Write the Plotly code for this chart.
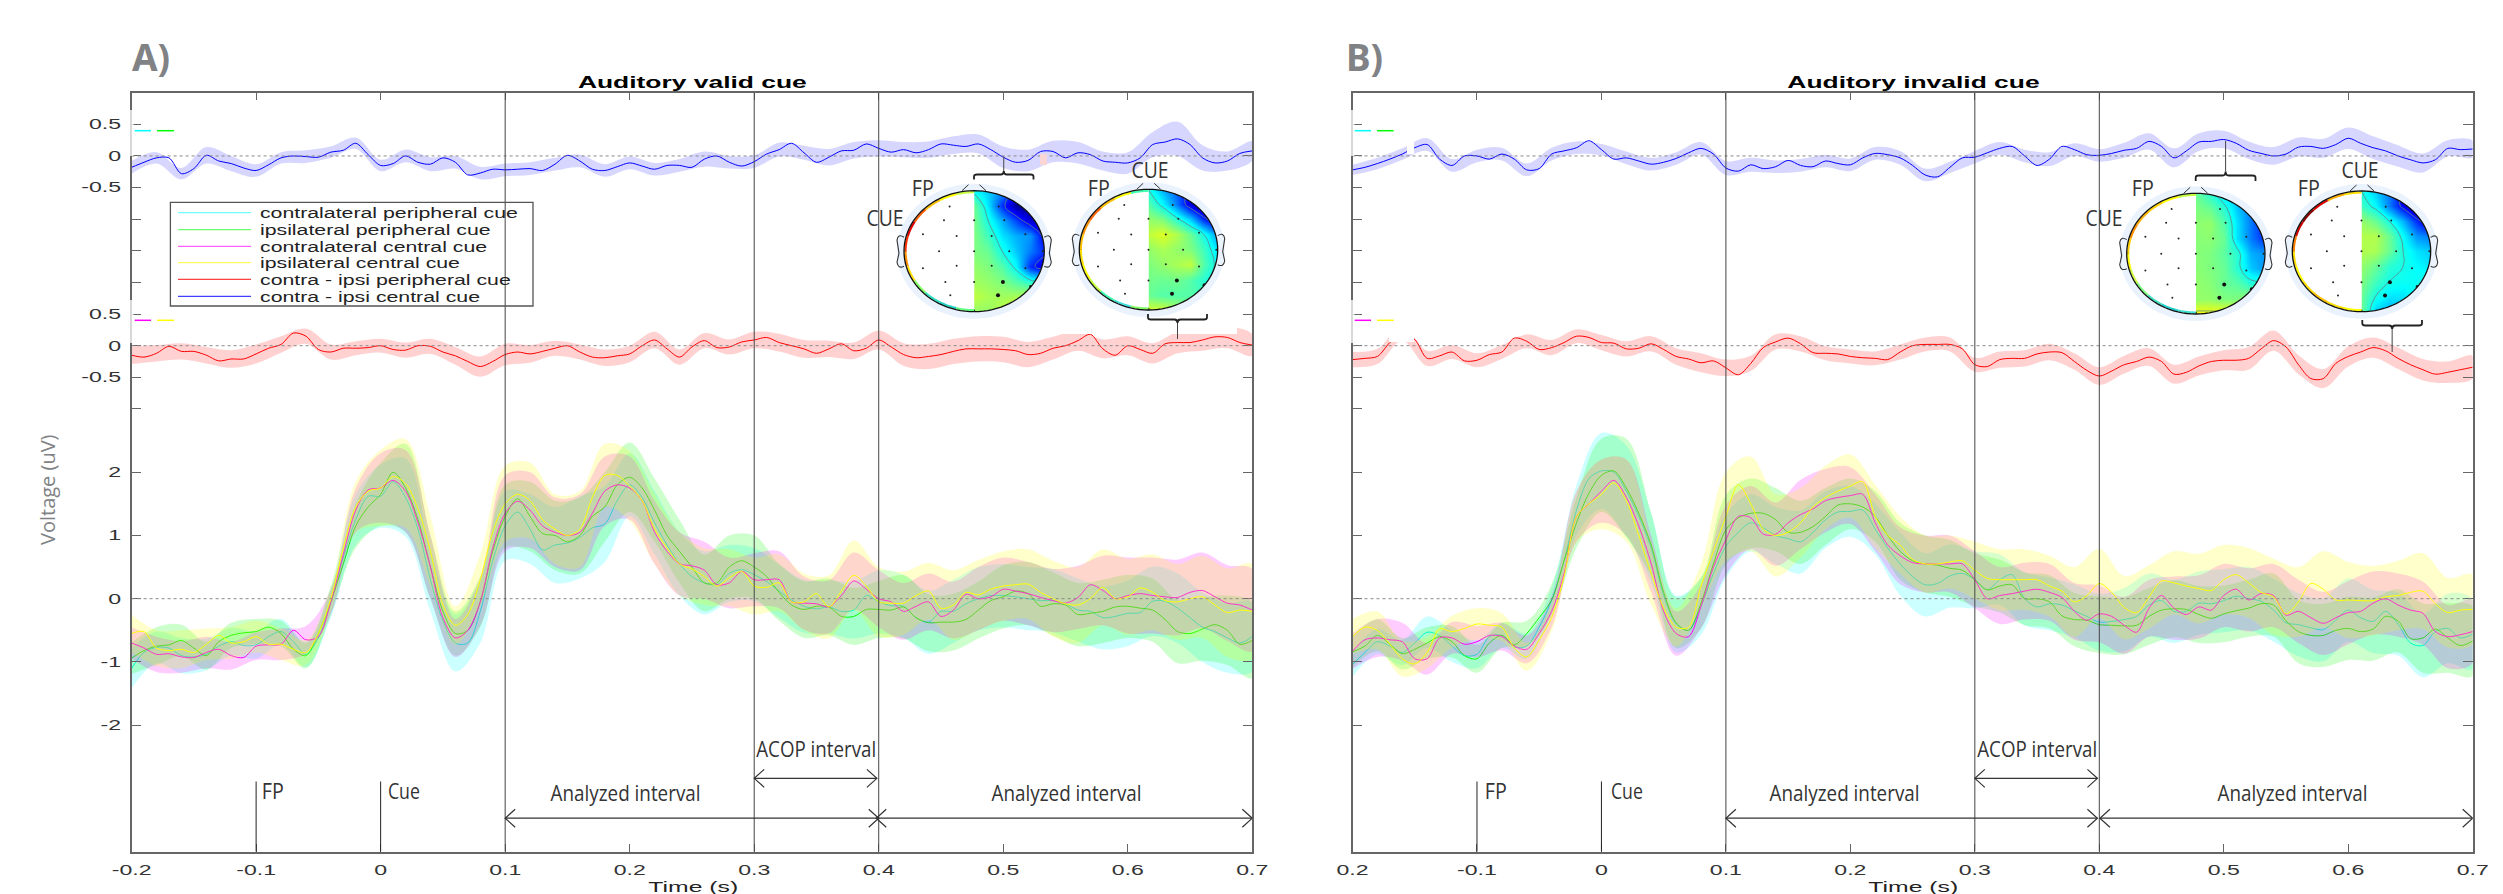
import json
import math
import plotly.graph_objects as go

W, H = 2503, 894

# ---------- time bases ----------
t_line = [round(-0.20 + 0.01 * i, 2) for i in range(91)]
t_band = t_line[::2]

# ---------- panel A: grand averages (uV) ----------
A_cyan = [-1.1,-.85,-.77,-.78,-.9,-.92,-.88,-.75,-.68,-.74,
          -.73,-.6,-.52,-.68,-.88,-.62,-.05,.65,1.25,1.62,
          1.62,1.85,1.6,1.1,.3,-.35,-.7,-.7,-.2,.6,
          1.15,1.37,1.1,.77,.85,.88,.97,1.12,1.18,1.55,
          1.8,1.6,1.2,.85,.55,.35,.25,.22,.4,.46,
          .38,.27,.12,-.02,-.12,-.16,-.13,-.2,-.18,.05,
          -.05,-.11,-.12,-.3,-.37,-.2,-.2,-.08,0,.05,
          .05,.03,0,-.03,-.03,-.08,-.18,-.2,-.3,-.28,
          -.23,-.22,-.04,-.04,-.15,-.3,-.45,-.52,-.62,-.7,
          -.6]
A_green = [-.94,-.82,-.75,-.73,-.66,-.78,-.9,-.68,-.58,-.54,
           -.52,-.45,-.55,-.8,-.9,-.55,-.05,.55,1.15,1.45,
           1.65,2.0,1.75,1.25,.5,-.2,-.55,-.5,-.05,.75,
           1.3,1.58,1.3,1.03,1.0,.9,1.0,1.3,1.45,1.8,
           1.92,1.75,1.4,1.0,.75,.5,.25,.25,.5,.6,
           .5,.35,.1,-.1,-.17,-.12,-.13,-.28,-.28,-.17,
           -.17,-.18,-.13,-.3,-.38,-.37,-.37,-.33,-.18,-.03,
           .03,.12,.08,-.12,-.08,-.1,-.25,-.23,-.2,-.13,
           -.12,-.15,-.18,-.33,-.52,-.55,-.48,-.41,-.5,-.72,
           -.66]
A_magenta = [-.7,-.78,-.88,-.87,-.92,-.93,-.85,-.8,-.9,-.93,
             -.75,-.73,-.72,-.5,-.65,-.6,-.05,.7,1.4,1.72,
             1.75,1.87,1.7,1.2,.5,-.3,-.62,-.5,-.05,.8,
             1.35,1.54,1.4,1.15,1.05,1.0,1.05,1.35,1.7,1.8,
             1.75,1.55,1.05,.75,.55,.52,.45,.22,.25,.43,
             .3,.3,.3,-.05,-.07,-.08,-.13,.05,.28,.15,
             0,-.05,-.2,-.12,-.05,-.28,-.18,.07,0,.03,
             .15,.12,.08,.02,-.03,-.07,.02,.22,.13,0,
             .05,.08,.05,.03,.02,.1,.13,.03,-.07,-.1,
             -.18]
A_yellow = [-.55,-.52,-.78,-.82,-.8,-.85,-.72,-.58,-.7,-.68,
            -.6,-.72,-.72,-.8,-.85,-.55,0,.8,1.45,1.7,
            1.75,1.93,1.82,1.42,.75,-.1,-.42,-.25,.3,1.05,
            1.5,1.65,1.55,1.25,1.1,1.0,1.1,1.6,1.95,1.95,
            1.78,1.55,1.1,.8,.55,.47,.35,.2,.33,.43,
            .2,.18,.25,-.05,-.05,.08,-.13,.12,.37,.2,
            -.05,-.07,-.07,.05,.12,-.15,-.1,.1,.06,.15,
            .2,.22,.23,.1,0,-.08,-.1,0,.18,0,
            .03,.17,.1,-.03,-.05,0,.03,-.1,-.22,-.18,
            -.2]
A_blue = [-.18,-.1,-.03,-.03,-.28,-.2,.01,-.08,-.12,-.19,
          -.23,-.14,-.03,0,-.01,-.02,.06,.09,.2,.02,
          -.15,-.12,0,-.1,-.13,-.03,-.1,-.3,-.27,-.21,
          -.22,-.21,-.2,-.23,-.13,.01,-.08,-.21,-.23,-.17,
          -.11,-.16,-.21,-.15,-.15,-.18,-.05,0,-.1,-.16,
          -.09,.03,.1,.2,.05,-.1,-.02,.08,.09,.19,
          .12,.06,.1,.05,.1,.19,.17,.15,.19,.1,
          -.02,-.1,-.07,.07,.07,-.03,.05,.02,-.08,-.1,
          -.11,-.03,.18,.22,.27,.18,-.03,-.11,-.08,.04,
          .08]
A_red = [-.15,-.18,-.12,-.01,-.09,-.09,-.15,-.24,-.21,-.21,
         -.13,-.04,.02,.2,.15,-.06,-.1,-.04,-.04,-.03,
         0,-.06,-.07,0,-.01,-.1,-.16,-.25,-.33,-.25,
         -.14,-.1,-.13,-.09,-.04,0,-.1,-.18,-.19,-.16,
         -.13,0,.09,-.05,-.18,-.02,.08,-.03,-.02,.06,
         .09,.13,.05,0,-.05,-.12,-.05,.03,-.08,-.04,
         .09,-.02,-.14,-.19,-.17,-.14,-.09,-.05,-.05,-.05,
         -.06,-.08,-.14,-.12,-.04,0,.08,.18,-.05,-.15,
         0,-.06,-.12,.03,.05,.05,.09,.14,.13,.05,
         .01]

# ---------- panel B: grand averages (uV) ----------
B_cyan = [-1.04,-.85,-.68,-.75,-.85,-.7,-.53,-.58,-.75,-.9,
          -.88,-.6,-.58,-.76,-.75,-.45,-.02,.6,1.4,1.9,
          2.02,2.0,1.7,1.3,.8,.05,-.4,-.5,-.12,.4,
          .83,1.05,1.2,1.12,1.0,.95,.9,1.05,1.25,1.37,
          1.38,1.4,1.1,.8,.55,.35,.22,.24,.36,.4,
          .3,.14,.3,.38,0,-.13,-.08,-.1,-.19,-.28,
          -.37,-.36,-.33,-.28,-.1,-.03,-.2,-.2,-.07,-.08,
          -.03,.04,0,-.04,-.18,-.38,-.41,-.46,-.49,-.34,
          -.18,-.3,-.36,-.2,-.4,-.7,-.74,-.52,-.47,-.62,
          -.56]
B_green = [-.84,-.75,-.58,-.72,-.87,-.8,-.7,-.6,-.68,-.9,
           -.95,-.7,-.58,-.73,-.55,-.3,-.02,.6,1.2,1.67,
           1.95,2.02,1.75,1.35,.85,.1,-.38,-.5,-.07,.55,
           1.09,1.28,1.35,1.35,1.25,1.05,1.05,1.14,1.3,1.48,
           1.5,1.45,1.3,1.0,.75,.6,.55,.53,.48,.45,
           .3,.14,.2,.22,0,0,-.05,-.27,-.33,-.34,
           -.41,-.42,-.43,-.42,-.28,-.18,-.16,-.17,-.25,-.31,
           -.24,-.19,-.15,-.08,-.1,-.35,-.52,-.58,-.58,-.5,
           -.47,-.52,-.48,-.28,-.35,-.63,-.62,-.48,-.62,-.74,
           -.67]
B_magenta = [-.83,-.65,-.62,-.65,-.68,-.95,-.95,-.62,-.62,-.72,
             -.68,-.58,-.6,-.75,-.8,-.55,-.2,.4,1.3,1.5,
             1.7,1.87,1.6,1.15,.55,-.2,-.55,-.6,-.12,.5,
             .93,1.3,1.28,1.02,1.02,1.2,1.33,1.42,1.55,1.6,
             1.63,1.65,1.2,.85,.68,.57,.55,.55,.55,.55,
             .3,0,.05,.08,.12,.15,.1,.02,-.2,-.34,
             -.24,-.28,-.42,-.53,-.15,.05,-.15,-.25,-.13,-.18,
             .05,.15,-.02,.08,.05,-.26,-.2,-.3,-.39,-.3,
             -.22,-.2,-.07,0,-.1,-.18,-.23,-.52,-.6,-.57,
             -.52]
B_yellow = [-.6,-.45,-.5,-.72,-.95,-1.03,-.85,-.48,-.52,-.47,
            -.4,-.42,-.45,-.78,-.92,-.65,-.3,.35,1.3,1.5,
            1.65,1.83,1.55,1.0,.4,-.15,-.45,-.45,.2,.75,
            1.3,1.8,1.5,1.1,1.0,1.05,1.2,1.45,1.6,1.7,
            1.78,1.85,1.3,1.0,.85,.62,.55,.55,.58,.6,
            .45,.32,.3,.3,.3,.3,.2,.12,-.05,.05,
            .24,.1,-.14,-.22,.03,.28,.25,.2,.16,.13,
            .3,.38,.25,.1,.03,-.24,-.05,.24,.15,-.02,
            -.02,-.03,-.03,.03,.05,.1,.12,-.08,-.22,-.18,
            -.17]
B_blue = [-.22,-.18,-.12,-.05,.03,.13,.18,-.05,-.15,0,
          0,-.05,.03,-.05,-.22,-.2,.03,.08,.13,.24,
          .1,-.05,-.03,-.08,-.13,-.1,-.04,.05,.12,.03,
          -.19,-.24,-.14,-.2,-.17,-.07,-.15,-.17,-.08,-.12,
          -.14,-.03,.04,.02,-.03,-.15,-.3,-.33,-.18,-.03,
          -.02,.05,.12,.15,0,-.15,-.05,.15,.1,.02,
          .01,.04,.09,.12,.23,.15,-.03,.08,.22,.23,
          .26,.2,.09,.04,0,.03,.14,.15,.12,.18,
          .28,.2,.13,.08,0,-.06,-.11,-.06,.12,.1,
          .11]
B_red = [-.22,-.2,-.17,.05,.2,.1,-.2,-.16,-.1,-.24,
         -.23,-.14,-.1,.12,.07,-.06,-.03,.05,.15,.13,
         .05,.04,-.05,-.04,.03,-.06,-.17,-.21,-.27,-.24,
         -.35,-.46,-.28,-.03,.06,.12,.03,-.11,-.12,-.13,
         -.17,-.19,-.2,-.22,-.1,0,.02,.02,.02,-.05,
         -.3,-.33,-.22,-.2,-.2,-.13,-.1,-.11,-.25,-.39,
         -.48,-.4,-.3,-.25,-.18,-.25,-.45,-.42,-.32,-.25,
         -.23,-.23,-.2,-.05,.08,-.02,-.3,-.52,-.52,-.28,
         -.17,-.1,-.03,-.08,-.2,-.3,-.38,-.45,-.42,-.38,
         -.34]

# ---------- error band half widths (every 0.02 s) ----------
A_hw_cyan = [.32,.25,.28,.25,.22,.22,.2,.2,.25,.4,.5,.62,.5,.45,.5,.55,.55,.6,.65,.6,.5,.5,.5,.5,.45,.42,.42,.42,.42,.45,.5,.5,.5,.5,.5,.5,.5,.5,.5,.5,.52,.55,.55,.55,.55,.55]
A_hw_green = [.25,.3,.25,.22,.2,.2,.2,.2,.2,.35,.5,.7,.5,.35,.4,.5,.55,.55,.6,.55,.55,.5,.5,.45,.5,.5,.45,.45,.45,.45,.45,.5,.45,.45,.45,.5,.5,.5,.5,.5,.5,.5,.5,.5,.55,.6]
A_hw_magenta = [.25,.28,.25,.25,.22,.22,.25,.22,.2,.35,.55,.65,.5,.3,.38,.6,.6,.55,.6,.55,.5,.5,.5,.45,.4,.42,.45,.42,.42,.45,.45,.45,.45,.45,.5,.5,.5,.5,.5,.55,.6,.6,.6,.6,.6,.65]
A_hw_yellow = [.3,.28,.3,.25,.25,.25,.25,.2,.2,.4,.6,.7,.55,.3,.4,.6,.6,.55,.6,.5,.55,.55,.5,.45,.45,.45,.45,.45,.5,.55,.55,.5,.45,.55,.55,.55,.55,.6,.6,.6,.6,.6,.6,.65,.7,.75]
A_hw_blue = [.1,.09,.09,.13,.12,.1,.09,.1,.09,.09,.09,.1,.11,.1,.1,.1,.1,.1,.1,.1,.1,.1,.1,.12,.1,.1,.11,.11,.13,.13,.13,.12,.13,.14,.15,.17,.17,.17,.17,.15,.17,.2,.27,.2,.15,.15]
A_hw_red = [.14,.13,.13,.13,.14,.15,.13,.12,.12,.11,.11,.12,.12,.14,.16,.17,.14,.12,.12,.13,.13,.13,.12,.12,.12,.13,.14,.14,.13,.13,.15,.18,.2,.2,.2,.2,.2,.18,.16,.15,.15,.16,.17,.17,.17,.17]
B_hw_cyan = [.2,.2,.2,.25,.25,.22,.2,.2,.2,.4,.6,.72,.55,.45,.45,.5,.45,.45,.5,.45,.4,.4,.5,.5,.5,.45,.4,.42,.42,.42,.45,.5,.5,.5,.5,.5,.5,.5,.5,.5,.5,.5,.5,.5,.55,.55]
B_hw_green = [.25,.25,.25,.25,.25,.22,.2,.2,.25,.4,.58,.78,.5,.4,.4,.55,.55,.5,.5,.45,.4,.4,.45,.45,.45,.42,.42,.42,.42,.42,.45,.45,.45,.45,.45,.45,.45,.5,.5,.5,.5,.5,.5,.55,.55,.55]
B_hw_magenta = [.28,.3,.3,.25,.25,.25,.22,.22,.25,.4,.5,.6,.45,.35,.35,.55,.5,.5,.55,.5,.45,.45,.45,.45,.45,.45,.45,.45,.45,.45,.45,.45,.45,.5,.5,.5,.5,.5,.5,.5,.5,.5,.5,.5,.5,.5]
B_hw_yellow = [.28,.3,.28,.25,.25,.25,.22,.22,.22,.4,.55,.65,.5,.3,.35,.7,.75,.65,.55,.5,.5,.5,.45,.45,.42,.45,.48,.48,.48,.55,.55,.5,.5,.5,.55,.55,.55,.6,.55,.6,.6,.55,.55,.6,.55,.55]
B_hw_blue = [.08,.09,.09,.1,.1,.1,.1,.1,.1,.1,.09,.1,.1,.1,.1,.11,.11,.1,.1,.1,.1,.1,.11,.1,.09,.1,.1,.1,.11,.1,.1,.12,.13,.15,.14,.14,.14,.14,.15,.15,.17,.18,.17,.15,.13,.13]
B_hw_red = [.12,.12,.12,.12,.11,.11,.11,.11,.12,.11,.12,.12,.12,.13,.15,.13,.12,.12,.12,.11,.11,.11,.12,.11,.11,.11,.13,.13,.13,.13,.14,.14,.14,.15,.15,.16,.18,.16,.15,.15,.16,.16,.17,.17,.17,.18]

# ---------- text and ticks ----------
legend_labels = ["contralateral peripheral cue", "ipsilateral peripheral cue",
                 "contralateral central cue", "ipsilateral central cue",
                 "contra - ipsi peripheral cue", "contra - ipsi central cue"]
colors = ["#00ffff", "#00ff00", "#ff00ff", "#ffff00", "#ff0000", "#0000ff"]
band_colors = ["rgba(0,255,255,.2)", "rgba(0,255,0,.2)", "rgba(255,0,255,.2)",
               "rgba(255,255,0,.2)", "rgba(255,0,0,.18)", "rgba(0,0,255,.16)"]
x_ticks = [-.2, -.1, 0, .1, .2, .3, .4, .5, .6, .7]
x_text_A = ["-0.2", "-0.1", "0", "0.1", "0.2", "0.3", "0.4", "0.5", "0.6", "0.7"]
x_text_B = ["0.2", "-0.1", "0", "0.1", "0.2", "0.3", "0.4", "0.5", "0.6", "0.7"]
y_ticks = [-2, -1, 0, 1, 2, 3, 3.5, 4, 4.5, 5, 5.5, 6, 6.5, 7, 7.5]
y_text = ["-2", "-1", "0", "1", "2", "", "-0.5", "0", "0.5", "", "", "", "-0.5", "0", "0.5"]
red_offset, blue_offset = 4, 7
marker_lines_t = [-.1, 0]
interval_t = [.1, .3, .4]

# ---------- scalp maps: value on a half-head grid ----------
map_x = [0, .2, .4, .6, .8, 1]
map_y = [1, .75, .5, .25, 0, -.25, -.5, -.75, -1]
map_A1 = [[-.3,-.4,-.5,-.8,-.9,-1],[-.05,-.35,-.7,-.95,-1,-1],[-.02,-.25,-.45,-.65,-.85,-.95],
          [0,-.15,-.35,-.45,-.5,-.8],[0,-.05,-.25,-.4,-.55,-.7],[.05,0,-.1,-.3,-.7,-.85],
          [.08,.05,0,-.1,-.2,-.3],[.15,.1,.08,.1,.15,.2],[.05,.05,.15,.25,.3,.3]]
map_A2 = [[-.25,-.45,-.6,-.8,-.9,-1],[-.1,-.3,-.55,-.85,-1,-1],[.05,0,-.2,-.4,-.7,-.9],
          [.15,.22,.12,-.05,-.25,-.5],[.05,.1,.05,0,-.15,-.35],[0,.05,.1,.15,-.1,-.3],
          [-.03,-.05,-.03,-.1,-.2,-.3],[-.05,-.1,-.1,-.1,-.15,-.2],[.2,.2,.1,0,-.05,-.1]]
map_B1 = [[-.05,-.2,-.35,-.45,-.6,-.8],[0,-.05,-.2,-.4,-.55,-.75],[.03,.05,-.1,-.35,-.55,-.75],
          [.02,.03,-.05,-.35,-.55,-.7],[.02,0,-.08,-.2,-.45,-.5],[.03,0,-.05,-.2,-.4,-.5],
          [.05,.02,-.05,-.08,-.2,-.2],[.05,.05,0,0,.1,.15],[.3,.3,.3,.3,.25,.2]]
map_B2 = [[-.25,-.4,-.55,-.8,-1,-1],[-.15,-.3,-.55,-.8,-1,-1],[.05,-.05,-.25,-.45,-.7,-.9],
          [.12,.12,-.05,-.3,-.5,-.55],[.12,.1,-.05,-.25,-.35,-.4],[.05,-.05,-.2,-.25,-.3,-.35],
          [0,-.15,-.25,-.28,-.28,-.2],[-.05,-.25,-.35,-.35,-.25,-.1],[-.05,-.4,-.45,-.4,-.3,-.2]]
sensor_x = [-.32,.32,-.35,.35,-.43,.43,-.73,.73,-.25,.25,-.5,.5,-.73,.73,-.25,.25,-.41,-.34,-.32,.32,0,0,0,0,-.98,.98]
sensor_y = [.97,.97,.74,.74,.51,.51,.28,.28,.25,.25,0,0,-.28,-.28,-.24,-.24,-.51,-.73,-.95,-.95,.51,0,-.51,-.98,0,0]
big_sensor_x = [.41, .34, .81]
big_sensor_y = [-.51, -.73, -.59]
jet = [[0, "#00007f"], [.11, "#0000ff"], [.35, "#00ffff"], [.5, "#7fff7f"],
       [.65, "#ffff00"], [.89, "#ff0000"], [1, "#7f0000"]]
rim_A1 = ['#c8ff40','#ffff00','#ffc000','#ff6000','#e00000','#ff3000','#ff9000','#ffe000','#80ff60','#30e0c0','#20d0c0','#60ff80']
rim_A2 = ['#40ffb0','#ffff00','#ffc000','#ff6000','#ff9000','#ffc000','#ffe000','#ffff00','#c0ff40','#40ffb0','#40e0e0','#80ff60']
rim_B1 = ['#c0ff40','#ffff00','#ffd000','#ffb000','#ff9000','#ffd000','#ffff00','#d0ff40','#80ff80','#40e0c0','#20d0d0','#40e0d0']
rim_B2 = ['#ffe000','#ffb000','#e00000','#900000','#d00000','#ff8000','#ffe000','#ffff00','#ffe000','#ffc000','#ffe000','#ffff00']

# ---------- layout geometry in pixels ----------
plot_top, plot_bottom = 92.7, 851.7
panels = [dict(l=131.6, r=1252.3, xa="x", ya="y"), dict(l=1352.5, r=2472.7, xa="x2", ya="y2")]
heads = [  # left, right, top, bottom, centre, map, rim
    (904, 1044.3, 190.7, 311.7, 974, map_A1, rim_A1),
    (1079.3, 1217.7, 189.3, 310, 1148.7, map_A2, rim_A2),
    (2126.7, 2265, 193.3, 314, 2195.7, map_B1, rim_B1),
    (2292.3, 2430.7, 191, 311.7, 2362, map_B2, rim_B2),
]

px = lambda v: v / W
py = lambda v: 1 - v / H
fig = go.Figure()
shapes = []
ann = []

def add_band_line(xa, ya, line, hw, idx, offset=0):
    lo = [line[2 * i] - hw[i] + offset for i in range(len(t_band))]
    up = [line[2 * i] + hw[i] + offset for i in range(len(t_band))]
    fig.add_trace(go.Scatter(x=t_band + t_band[::-1], y=up + lo[::-1], xaxis=xa, yaxis=ya, mode="lines",
                             fill="toself", fillcolor=band_colors[idx], line=dict(width=0, shape="spline"),
                             hoverinfo="skip", showlegend=False))
    fig.add_trace(go.Scatter(x=t_line, y=[v + offset for v in line], xaxis=xa, yaxis=ya, mode="lines",
                             line=dict(color=colors[idx], width=1, shape="spline", smoothing=.9),
                             name=legend_labels[idx], showlegend=False))

series = [
    ([A_cyan, A_green, A_magenta, A_yellow], [A_hw_cyan, A_hw_green, A_hw_magenta, A_hw_yellow], A_red, A_hw_red, A_blue, A_hw_blue),
    ([B_cyan, B_green, B_magenta, B_yellow], [B_hw_cyan, B_hw_green, B_hw_magenta, B_hw_yellow], B_red, B_hw_red, B_blue, B_hw_blue),
]
for p, s in zip(panels, series):
    for i in range(4):
        add_band_line(p["xa"], p["ya"], s[0][i], s[1][i], i)
    add_band_line(p["xa"], p["ya"], s[2], s[3], 4, red_offset)
    add_band_line(p["xa"], p["ya"], s[4], s[5], 5, blue_offset)

# reference lines
for p in panels:
    for y0 in (0, red_offset, blue_offset):
        shapes.append(dict(type="line", xref=p["xa"], yref=p["ya"], x0=-.2, x1=.7, y0=y0, y1=y0, layer="above",
                           line=dict(color="#8a8a8a", width=1, dash="dot")))
    for t in interval_t:
        shapes.append(dict(type="line", xref=p["xa"], yref=p["ya"], x0=t, x1=t, y0=-4, y1=8, layer="above",
                           line=dict(color="#444", width=1)))
    for t in marker_lines_t:
        shapes.append(dict(type="line", xref=p["xa"], yref=p["ya"], x0=t, x1=t, y0=-4, y1=-2.89, layer="above",
                           line=dict(color="#222", width=1)))

# interval arrows
arrow_sets = [
    ("x", "y", [[.1, .4], [.398, .7]], [.3, .3985]),
    ("x2", "y2", [[.1, .3985], [.4005, .7]], [.3, .3985]),
]
analyzed_y, acop_y = -3.47, -2.84
for xa, ya, spans, acop in arrow_sets:
    for span, yv in [(spans[0], analyzed_y), (spans[1], analyzed_y), (acop, acop_y)]:
        shapes.append(dict(type="line", xref=xa, yref=ya, x0=span[0], x1=span[1], y0=yv, y1=yv, layer="above",
                           line=dict(color="#333", width=1.3)))
        for tip, head in ((span[0], "M10,-9 L0,0 L10,9"), (span[1], "M-10,-9 L0,0 L-10,9")):
            shapes.append(dict(type="path", xref=xa, yref=ya, xsizemode="pixel", ysizemode="pixel",
                               xanchor=tip, yanchor=yv, path=head, layer="above",
                               line=dict(color="#333", width=1.2)))

# white patches left in the pasted figure
def rect(x0, y0, x1, y1, color="white", opacity=1):
    shapes.append(dict(type="rect", xref="paper", yref="paper", x0=px(x0), x1=px(x1), y0=py(y0), y1=py(y1),
                       layer="above", fillcolor=color, opacity=opacity, line=dict(width=0)))
rect(1062, 312, 1237, 334)
rect(1389, 320, 1414, 342)
rect(1407, 135, 1414, 154)
rect(1040, 154, 1047, 165, "#f9d5d5")
for x0 in (130, 1351):
    rect(x0, 110, x0 + 3.5, 156, "white", .75)
    rect(x0, 300, x0 + 3.5, 343, "white", .75)

def paper_path(points, close=True):
    s = "M" + " L".join(f"{px(a):.6f},{py(b):.6f}" for a, b in points)
    return s + (" Z" if close else "")

def ellipse_points(cx, cy, rx, ry, a0=0, a1=360, n=96):
    return [(cx + rx * math.cos(math.radians(a0 + (a1 - a0) * i / n)),
             cy - ry * math.sin(math.radians(a0 + (a1 - a0) * i / n))) for i in range(n + 1)]

# scalp maps
for k, (l, r, tp, bt, c, z, rim) in enumerate(heads):
    n = k + 3
    xa, ya = f"x{n}", f"y{n}"
    fig.add_trace(go.Contour(x=map_x, y=map_y[::-1], z=z[::-1], xaxis=xa, yaxis=ya, colorscale=jet, zmin=-1, zmax=1,
                             showscale=False, hoverinfo="skip",
                             contours=dict(coloring="heatmap", start=-.75, end=.25, size=.5),
                             line=dict(color="#5f8585", width=.8, smoothing=1.3)))
    fig.add_trace(go.Scatter(x=sensor_x, y=sensor_y, xaxis=xa, yaxis=ya, mode="markers",
                             marker=dict(color="#222", size=2), hoverinfo="skip", showlegend=False))
    fig.add_trace(go.Scatter(x=big_sensor_x, y=big_sensor_y, xaxis=xa, yaxis=ya, mode="markers",
                             marker=dict(color="#111", size=4), hoverinfo="skip", showlegend=False))
    cx, cy, rx, ry = (l + r) / 2, (tp + bt) / 2, (r - l) / 2, (bt - tp) / 2
    half = ellipse_points(cx, cy, rx, ry, 90, -90)
    mx0, mx1 = c, r + 2
    box = [(mx0, tp - 2), (mx1, tp - 2), (mx1, bt + 2), (mx0, bt + 2)]
    lens = [(x, y) for x, y in half if x >= c] + [(c, bt), (c, tp)]
    shapes.append(dict(type="path", xref="paper", yref="paper", layer="above", fillcolor="white",
                       path=paper_path(box) + " " + paper_path(lens), line=dict(width=0)))
    shapes.append(dict(type="path", xref="paper", yref="paper", layer="above", fillcolor="#eaf3fd", opacity=1,
                       path=paper_path(ellipse_points(cx, cy, rx + 7, ry + 7)) + " " + paper_path(ellipse_points(cx, cy, rx, ry)),
                       line=dict(width=0)))
    m = len(rim)
    for i, col in enumerate(rim):
        pts = ellipse_points(cx, cy, rx - 1.5, ry - 1.5, 90 + 180 * i / m, 90 + 180 * (i + 1) / m, 8)
        shapes.append(dict(type="path", xref="paper", yref="paper", layer="above",
                           path=paper_path(pts, False), line=dict(color=col, width=2.2)))
    shapes.append(dict(type="path", xref="paper", yref="paper", layer="above",
                       path=paper_path(ellipse_points(cx, cy, rx, ry)), line=dict(color="#111", width=1.3)))
    for x0, y0, x1, y1 in [(c - 12, tp, c - 5.5, tp - 6), (c + 5.5, tp - 6, c + 12, tp)]:
        shapes.append(dict(type="line", xref="paper", yref="paper", layer="above",
                           x0=px(x0), x1=px(x1), y0=py(y0), y1=py(y1), line=dict(color="#333", width=1)))
    for sx, ex in ((-1, l), (1, r)):
        a = f"M{px(ex):.6f},{py(cy - 14):.6f} Q{px(ex + sx * 6):.6f},{py(cy - 18):.6f} {px(ex + sx * 7):.6f},{py(cy - 11):.6f}"
        a += f" L{px(ex + sx * 5):.6f},{py(cy + 2):.6f} L{px(ex + sx * 7):.6f},{py(cy + 11):.6f}"
        a += f" Q{px(ex + sx * 6):.6f},{py(cy + 18):.6f} {px(ex):.6f},{py(cy + 15):.6f}"
        shapes.append(dict(type="path", xref="paper", yref="paper", layer="above",
                           path=a, line=dict(color="#333", width=1.1)))

def brace(x0, x1, y_end, y_bar, y_tip, stem_to):
    xm = (x0 + x1) / 2
    s = 1 if y_end > y_bar else -1
    P = lambda a, b: f"{px(a):.6f},{py(b):.6f}"
    d = (f"M{P(x0, y_end)} L{P(x0, y_bar + s * 2)} Q{P(x0, y_bar)} {P(x0 + 3, y_bar)} "
         f"L{P(xm - 3, y_bar)} Q{P(xm, y_bar)} {P(xm, y_tip)} Q{P(xm, y_bar)} {P(xm + 3, y_bar)} "
         f"L{P(x1 - 3, y_bar)} Q{P(x1, y_bar)} {P(x1, y_bar + s * 2)} L{P(x1, y_end)}")
    shapes.append(dict(type="path", xref="paper", yref="paper", layer="above", path=d, line=dict(color="#222", width=1.8)))
    shapes.append(dict(type="line", xref="paper", yref="paper", layer="above", x0=px(xm), x1=px(xm),
                       y0=py(y_tip), y1=py(stem_to), line=dict(color="#444", width=1)))

brace(974, 1033.5, 179.5, 174.5, 171, 156.5)
brace(1148, 1207, 314, 319.5, 323, 339)
brace(2195.7, 2255.5, 181, 175.5, 171.5, 141)
brace(2362.3, 2422, 320, 325.5, 329, 352)

for (x0, x1, yy, col) in [(134.7, 151, 130.7, colors[0]), (157, 174, 130.7, colors[1]),
                          (134.7, 151, 320.3, colors[2]), (157, 174, 320.3, colors[3]),
                          (1354.7, 1371, 130.7, colors[0]), (1377, 1393.6, 130.7, colors[1]),
                          (1354.7, 1371, 320.3, colors[2]), (1377, 1393.6, 320.3, colors[3])]:
    shapes.append(dict(type="line", xref="paper", yref="paper", layer="above", x0=px(x0), x1=px(x1),
                       y0=py(yy), y1=py(yy), line=dict(color=col, width=1.5)))

# legend box
shapes.append(dict(type="rect", xref="paper", yref="paper", layer="above", x0=px(170.4), x1=px(533), y0=py(202.3), y1=py(306),
                   line=dict(color="#555", width=1.3)))
legend_rows = [212.7, 229.7, 246.3, 262.7, 279.3, 296.3]
legend_line_colors = ["#70ffff", "#70ff70", "#ff60ff", "#ffff60", "#ff4040", "#4040ff"]
SANS = "Liberation Sans"
for lab, yy, col in zip(legend_labels, legend_rows, legend_line_colors):
    shapes.append(dict(type="line", xref="paper", yref="paper", layer="above", x0=px(178), x1=px(251), y0=py(yy), y1=py(yy),
                       line=dict(color=col, width=1.2)))
    ann.append(dict(x=px(257.6), y=py(yy + .5), text=lab, xanchor="left", font=dict(family=SANS, size=14, color="#222")))

def label(x, y, text, size=21, color="#333", family="Open Sans", **kw):
    ann.append(dict(x=px(x), y=py(y), text=text, font=dict(family=family, size=size, color=color), **kw))

label(150.5, 57, "A)", 37, "#808285", "Noto Sans")
label(1364, 57, "B)", 37, "#808285", "Noto Sans")
ann[-1]["font"]["weight"] = 700; ann[-2]["font"]["weight"] = 700
label(692, 83, "Auditory valid cue", 16, "#000", SANS)
label(1913, 83, "Auditory invalid cue", 16, "#000", SANS)
ann[-1]["font"]["weight"] = 700; ann[-2]["font"]["weight"] = 700
label(693, 886, "Time (s)", 15, "#222", SANS)
label(1913, 886, "Time (s)", 15, "#222", SANS)
label(48, 490, "Voltage (uV)", 20, "#808285", "Open Sans", textangle=-90)
for x, text in [(272, "FP"), (404, "Cue"), (625, "Analyzed interval"), (816, "ACOP interval"), (1066, "Analyzed interval"),
                (1495, "FP"), (1627, "Cue"), (1844.5, "Analyzed interval"), (2037, "ACOP interval"), (2292, "Analyzed interval")]:
    yy = 749 if text.startswith("ACOP") else (791 if text in ("FP", "Cue") else 792.7)
    label(x, yy, text)
for x, y, text in [(923, 187.7, "FP"), (885, 217.7, "CUE"), (1098.7, 187.7, "FP"), (1150, 170, "CUE"),
                   (2142.7, 187.7, "FP"), (2104, 217.7, "CUE"), (2308, 187.7, "FP"), (2359.7, 170, "CUE")]:
    label(x, y, text, 21)
for a in ann:
    a.update(xref="paper", yref="paper", showarrow=False)
    a.setdefault("xanchor", "center")
    a.setdefault("yanchor", "middle")

tick_font = dict(family=SANS, size=14, color="#333")
axis_common = dict(showgrid=False, zeroline=False, showline=True, linecolor="#666", linewidth=1.5, automargin=False,
                   mirror="allticks", ticks="inside", tickcolor="#666", tickfont=tick_font)
layout = dict(width=W, height=H, margin=dict(l=0, r=0, t=0, b=0, pad=0), autosize=False,
              paper_bgcolor="white", plot_bgcolor="white", showlegend=False, shapes=shapes, annotations=ann)
layout["xaxis"] = dict(domain=[px(131.6), px(1252.3)], range=[-.2, .7], tickvals=x_ticks, ticktext=x_text_A, ticklen=8,
                       anchor="y", ticklabelstandoff=5, **axis_common)
layout["xaxis2"] = dict(domain=[px(1352.5), px(2472.7)], range=[-.2, .7], tickvals=x_ticks, ticktext=x_text_B, ticklen=8,
                        anchor="y2", ticklabelstandoff=5, **axis_common)
ydom = [py(plot_bottom), py(plot_top)]
layout["yaxis"] = dict(domain=ydom, range=[-4, 8], tickvals=y_ticks, ticktext=y_text, ticklen=10, anchor="x",
                       ticklabelstandoff=6, **axis_common)
layout["yaxis2"] = dict(domain=ydom, range=[-4, 8], tickvals=y_ticks, ticktext=[""] * len(y_ticks), ticklen=10, anchor="x2",
                        **axis_common)
for k, (l, r, tp, bt, c, z, rim) in enumerate(heads):
    n = k + 3
    layout[f"xaxis{n}"] = dict(domain=[px(l), px(r)], range=[-1, 1], visible=False, anchor=f"y{n}", automargin=False)
    layout[f"yaxis{n}"] = dict(domain=[py(bt), py(tp)], range=[-1, 1], visible=False, anchor=f"x{n}", automargin=False)
fig.update_layout(**layout)

# The source figure is horizontally stretched; keep real text and widen it to match.
widths = {"Analyzed interval": 150, "ACOP interval": 120, "FP": 22, "Cue": 32, "CUE": 37}
factors = {lab: 1.52 for lab in legend_labels}
js = """
var WIDTHS = %s, FACTORS = %s;
function stretchText() {
  document.querySelectorAll('svg text').forEach(function (el) {
    var txt = el.textContent.trim();
    if (!txt) return;
    if (!el.dataset.ow) {
      el.dataset.ow = el.getComputedTextLength();
      el.dataset.ox = el.getAttribute('x') || '0';
    }
    var ow = parseFloat(el.dataset.ow), target = null;
    if (WIDTHS[txt]) target = WIDTHS[txt];
    else if (FACTORS[txt]) {
      target = ow * FACTORS[txt];
      // legend rows are left aligned: move the middle-anchored text so its left edge stays put
      el.setAttribute('x', (parseFloat(el.dataset.ox) + (target - ow) / 2).toFixed(1));
    }
    else if ((el.style.fontFamily || '').indexOf('Liberation') >= 0) target = ow * 1.65;
    if (target) {
      el.setAttribute('textLength', target.toFixed(1));
      el.setAttribute('lengthAdjust', 'spacingAndGlyphs');
    }
  });
}
document.body.style.margin = '0';
document.body.style.overflow = 'hidden';
stretchText();
[50, 200, 600, 1500].forEach(function (d) { setTimeout(stretchText, d); });
""" % (json.dumps(widths), json.dumps(factors))
fig.write_html("out.html", config=dict(displayModeBar=False), post_script=js)
